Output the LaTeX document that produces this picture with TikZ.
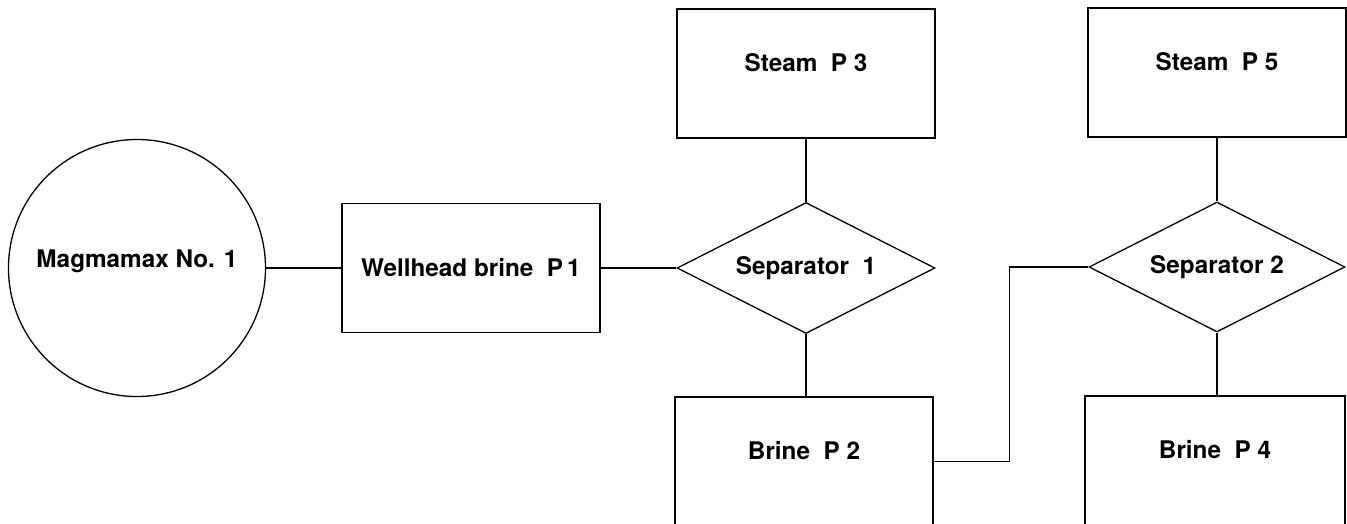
\documentclass[tikz,border=0pt]{standalone}
\usepackage{fontspec}
\setmainfont{TeX Gyre Heros}
\usetikzlibrary{shapes.geometric}
\begin{document}
\begin{tikzpicture}[x=1pt,y=-1pt,
  every node/.style={font=\fontsize{24.3}{28}\selectfont\bfseries, inner sep=0pt},
  line/.style={draw=black, line width=1.3pt},
  boxnode/.style={rectangle, line, minimum width=258pt, minimum height=129pt},
  upbox/.style={boxnode, text height=5pt, text depth=10pt},
  sepnode/.style={diamond, line, aspect=2, minimum width=258pt, minimum height=131pt},
  wellnode/.style={circle, line, minimum size=257pt, text height=10pt, text depth=11pt}]
\useasboundingbox (0,0) rectangle (1347,523);
\clip (0,0) rectangle (1347,523);
\node[wellnode] (well) at (137,268) {Magmamax No. 1};
\node[boxnode] (head) at (471,268) {Wellhead brine\ \ P\,1};
\node[sepnode] (sepa) at (806,268) {Separator\ \ 1};
\node[upbox] (steama) at (806,73.5) {Steam\ \ P 3};
\node[upbox] (brinea) at (804,461.5) {Brine\ \ P 2};
\node[sepnode, minimum width=256pt, minimum height=130pt] (sepb) at (1217,267) {Separator 2};
\node[upbox] (steamb) at (1217,72.5) {Steam\ \ P 5};
\node[upbox, minimum width=260pt] (brineb) at (1215,460.5) {Brine\ \ P 4};
\draw[line] (well.east) -- (head.west);
\draw[line] (head.east) -- (sepa.west);
\draw[line] (sepa.north) -- (steama.south);
\draw[line] (sepa.south) -- (sepa.south |- brinea.north);
\draw[line] (brinea.east) -- ++(76,0) |- (sepb.west);
\draw[line] (sepb.north) -- (steamb.south);
\draw[line] (sepb.south) -- (sepb.south |- brineb.north);
\end{tikzpicture}
\end{document}
